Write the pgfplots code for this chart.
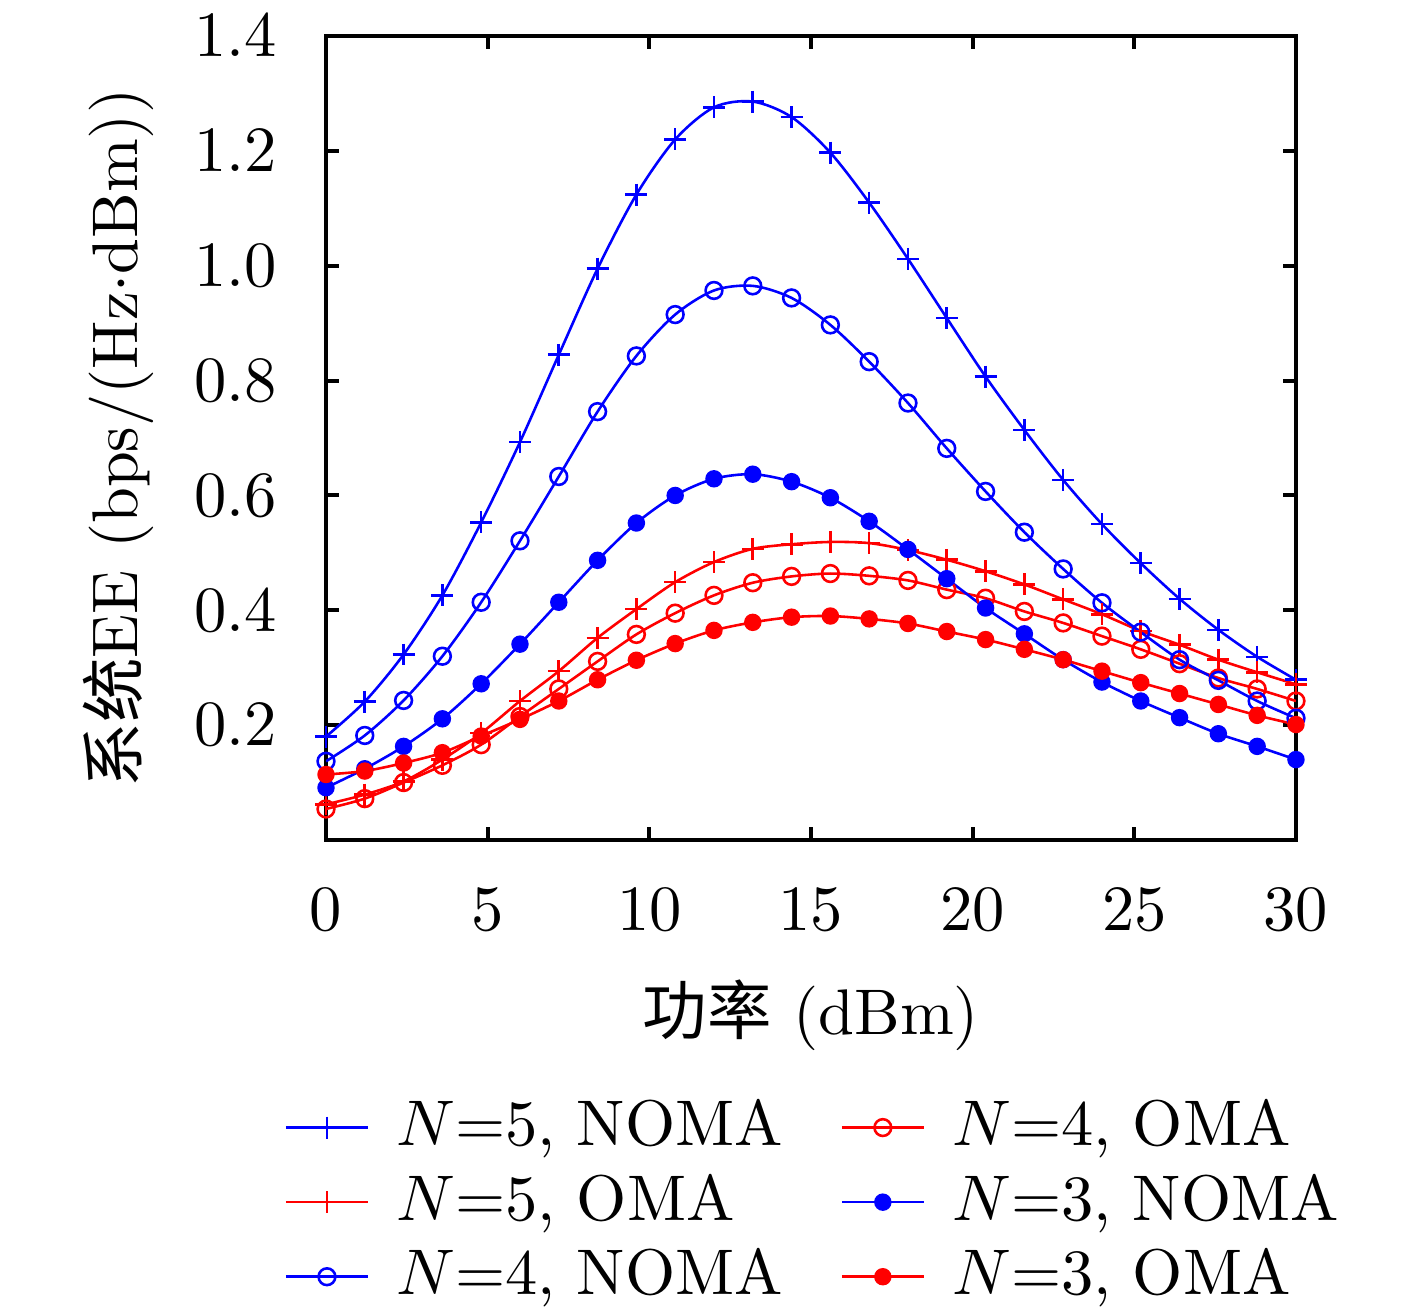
\documentclass[border=0pt]{standalone}
\usepackage{fontspec}
\usepackage{pgfplots}
\usepackage{pgfplotstable}
\pgfplotsset{compat=1.18}
\newfontfamily\cjk{Noto Sans CJK SC}

\pgfplotstableread{
x    n5noma n5oma n4noma n4oma n3noma n3oma
0.0  0.180  0.062 0.137  0.054 0.091  0.114
1.2  0.241  0.079 0.182  0.072 0.124  0.120
2.4  0.323  0.102 0.243  0.100 0.163  0.134
3.6  0.426  0.140 0.320  0.130 0.211  0.152
4.8  0.553  0.186 0.414  0.166 0.272  0.181
6.0  0.693  0.242 0.521  0.215 0.341  0.210
7.2  0.845  0.294 0.633  0.263 0.414  0.242
8.4  0.995  0.352 0.746  0.311 0.487  0.279
9.6  1.124  0.402 0.843  0.358 0.552  0.313
10.8 1.220  0.449 0.915  0.395 0.600  0.342
12.0 1.276  0.484 0.957  0.426 0.629  0.365
13.2 1.286  0.507 0.965  0.448 0.637  0.379
14.4 1.259  0.515 0.944  0.459 0.624  0.388
15.6 1.197  0.519 0.897  0.464 0.596  0.390
16.8 1.110  0.517 0.833  0.460 0.555  0.385
18.0 1.012  0.505 0.761  0.452 0.506  0.377
19.2 0.909  0.488 0.682  0.436 0.455  0.363
20.4 0.807  0.468 0.607  0.421 0.404  0.349
21.6 0.714  0.445 0.536  0.398 0.359  0.332
22.8 0.627  0.419 0.472  0.378 0.314  0.314
24.0 0.550  0.393 0.413  0.355 0.275  0.294
25.2 0.482  0.364 0.362  0.332 0.242  0.274
26.4 0.420  0.340 0.314  0.307 0.213  0.255
27.6 0.366  0.314 0.278  0.282 0.185  0.236
28.8 0.319  0.292 0.242  0.263 0.163  0.217
30.0 0.279  0.271 0.212  0.242 0.140  0.201
}\data

\begin{document}
\begin{tikzpicture}
\begin{axis}[
  name=ax,
  scale only axis,
  width=150.35pt, height=124.6pt,
  xmin=0, xmax=30, ymin=0, ymax=1.4,
  xtick={0,5,...,30},
  ytick={0.2,0.4,0.6,0.8,1.0,1.2,1.4},
  yticklabel style={/pgf/number format/fixed,/pgf/number format/fixed zerofill,/pgf/number format/precision=1, xshift=-4.1pt},
  xticklabel style={yshift=-4.1pt},
  tick align=inside,
  major tick length=2pt,
  axis line style={line width=0.62pt},
  every tick/.style={black, line width=0.62pt},
  xlabel={{\cjk 功率} (dBm)},
  ylabel={{\cjk 系统}EE (bps/(Hz$\cdot$dBm))},
  every axis x label/.style={at={(rel axis cs:0.5,0)}, yshift=-27.1pt, anchor=center},
  every axis y label/.style={at={(rel axis cs:0,0.5)}, xshift=-32.2pt, rotate=90, anchor=center},
  legend columns=2,
  legend cell align=left,
  legend style={
    at={(rel axis cs:0,0)}, anchor=north west,
    xshift=-6.6pt, yshift=-38.6pt,
    draw=none, fill=none,
    inner xsep=0pt, inner ysep=0pt,
    nodes={inner xsep=4.2pt, inner ysep=1.45pt, text depth=0.15em},
    /tikz/every even column/.append style={column sep=4.7pt},
  },
  legend image code/.code={\draw[mark repeat=2,mark phase=2] plot coordinates {(0pt,0pt) (6.35pt,0pt) (12.7pt,0pt)};},
  every axis plot/.append style={line width=0.4pt, smooth},
]
\addplot[blue, mark=+, mark size=1.7pt, mark options={line width=0.4pt}] table[x=x,y=n5noma]{\data};
\addlegendentry{$N$=5, NOMA}
\addplot[red, mark=o, mark size=1.3pt, mark options={line width=0.4pt}] table[x=x,y=n4oma]{\data};
\addlegendentry{$N$=4, OMA}
\addplot[red, mark=+, mark size=1.7pt, mark options={line width=0.4pt}] table[x=x,y=n5oma]{\data};
\addlegendentry{$N$=5, OMA}
\addplot[blue, mark=*, mark size=1.15pt, mark options={fill=blue}] table[x=x,y=n3noma]{\data};
\addlegendentry{$N$=3, NOMA}
\addplot[blue, mark=o, mark size=1.3pt, mark options={line width=0.4pt}] table[x=x,y=n4noma]{\data};
\addlegendentry{$N$=4, NOMA}
\addplot[red, mark=*, mark size=1.15pt, mark options={fill=red}] table[x=x,y=n3oma]{\data};
\addlegendentry{$N$=3, OMA}
\end{axis}
\pgfresetboundingbox
\path (ax.south west) ++(-50.53pt,-72.54pt) rectangle ++(219.64pt,202.74pt);
\end{tikzpicture}
\end{document}
